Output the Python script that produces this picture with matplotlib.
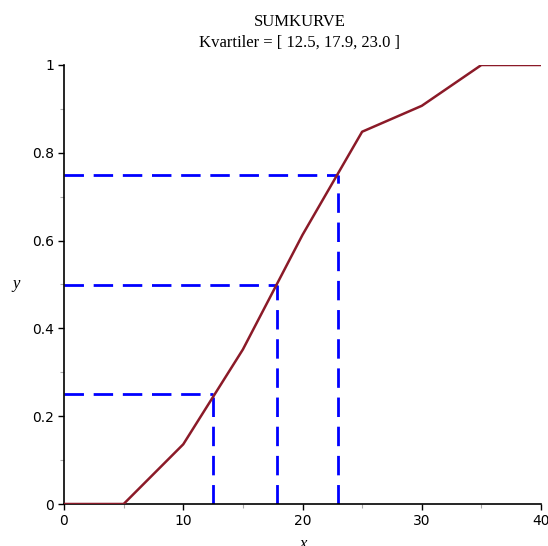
import matplotlib
matplotlib.use("Agg")
import matplotlib.pyplot as plt
from matplotlib.ticker import MultipleLocator

# Cumulative relative frequency (sumkurve)
x_vals = [0, 5, 10, 15, 20, 25, 30, 35, 40]
y_vals = [0, 0, 0.136, 0.352, 0.613, 0.848, 0.907, 1.0, 1.0]

# Quartiles and the matching cumulative levels
quartiles = [12.5, 17.9, 23.0]
levels = [0.25, 0.5, 0.75]

fig = plt.figure(figsize=(5.48, 5.46), dpi=100)
ax = fig.add_axes([64 / 548, 1 - 504 / 546, 477 / 548, 439 / 546])

blue = "#0000ff"
for q, lv in zip(quartiles, levels):
    ax.plot([0, q], [lv, lv], color=blue, lw=2.0, dashes=(7, 3.5), zorder=2)
    ax.plot([q, q], [0, lv], color=blue, lw=2.0, dashes=(7, 3.5), zorder=2)

ax.plot(x_vals, y_vals, color="#8b1a28", lw=1.8, zorder=3)

ax.set_xlim(0, 40)
ax.set_ylim(0, 1)
ax.spines["top"].set_visible(False)
ax.spines["right"].set_visible(False)
ax.spines["left"].set_linewidth(1.2)
ax.spines["bottom"].set_linewidth(1.2)

ax.xaxis.set_major_locator(MultipleLocator(10))
ax.xaxis.set_minor_locator(MultipleLocator(5))
ax.yaxis.set_major_locator(MultipleLocator(0.2))
ax.yaxis.set_minor_locator(MultipleLocator(0.1))
ax.set_yticks([0, 0.2, 0.4, 0.6, 0.8, 1.0])
ax.set_yticklabels(["0", "0.2", "0.4", "0.6", "0.8", "1"])
ax.tick_params(which="major", length=4, width=1, color="black", labelsize=10, pad=3)
ax.tick_params(which="minor", length=3, width=0.8, color="#aaaaaa")

ax.set_xlabel("x", fontfamily="Liberation Serif", style="italic", fontsize=12, labelpad=6)
ax.set_ylabel("y", fontfamily="Liberation Serif", style="italic", fontsize=12,
              rotation=0, labelpad=12, va="center")

fig.text(0.547, 1 - 22 / 546, "SUMKURVE", ha="center", va="center",
         fontfamily="Liberation Serif", fontsize=12)
fig.text(0.547, 1 - 43 / 546, "Kvartiler = [ 12.5, 17.9, 23.0 ]", ha="center", va="center",
         fontfamily="Liberation Serif", fontsize=12)

fig.savefig("out.png", dpi=100)
